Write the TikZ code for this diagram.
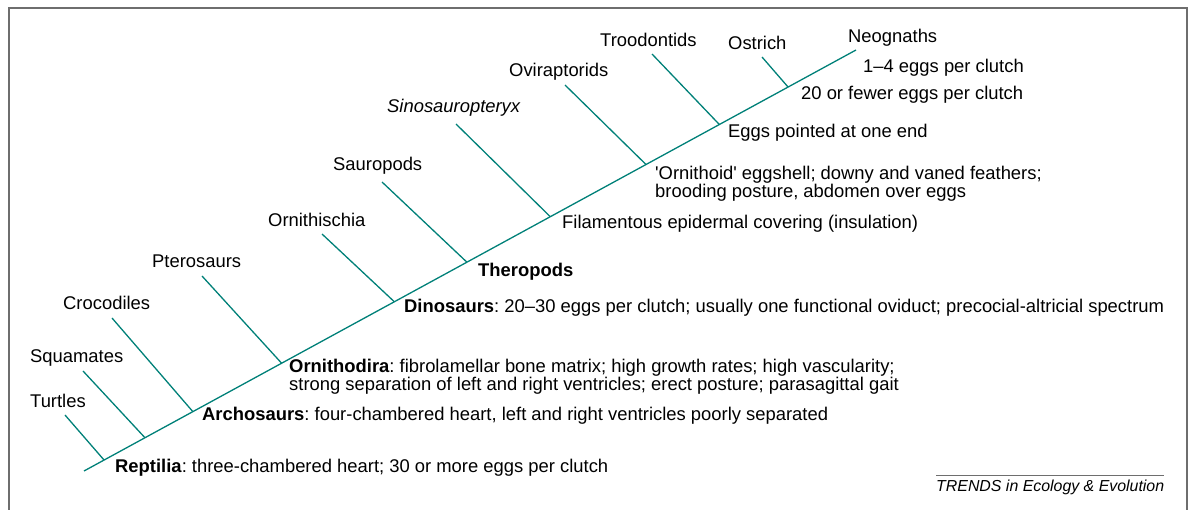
\documentclass[tikz,border=0pt]{standalone}
\usepackage{fontspec}
\setmainfont{Liberation Sans}
\usetikzlibrary{calc}
\definecolor{cladeteal}{RGB}{0,128,120}
\definecolor{framegray}{RGB}{110,110,110}
\frenchspacing

\begin{document}
\begin{tikzpicture}[x=1pt, y=-1pt,
  branch/.style={cladeteal, line width=1.3pt},
  lbl/.style={anchor=base west, inner sep=0pt, font=\fontsize{18.4}{15.5}\selectfont},
  note/.style={lbl, align=left}]
  \useasboundingbox (0,0) rectangle (1192,510);
  % frame
  \draw[framegray, line width=1.2pt] (9,515) -- (9,8) -- (1187,8) -- (1187,515);
  % trunk
  \coordinate (root) at (84,471);
  \coordinate (tNeognaths) at (856,50);
  \draw[branch] (root) -- (tNeognaths);
  % side branches: name / fraction along trunk / tip
  \foreach \nm/\where/\tx/\ty in {Turtles/0.026/65/415, Squamates/0.079/83/371,
      Crocodiles/0.141/112/318, Pterosaurs/0.256/202/276, Ornithischia/0.402/322/234,
      Sauropods/0.496/382/182, Sinosauropteryx/0.604/456/124, Oviraptorids/0.728/565/85,
      Troodontids/0.823/652/54, Ostrich/0.912/762/57}{
    \coordinate (j\nm) at ($(root)!\where!(tNeognaths)$);
    \coordinate (t\nm) at (\tx,\ty);
    \draw[branch] (j\nm) -- (t\nm);
  }
  % taxa
  \node[lbl] (lTurtles) at (30,408) {Turtles};
  \node[lbl] (lSquamates) at (30,363) {Squamates};
  \node[lbl] (lCrocodiles) at (63,310) {Crocodiles};
  \node[lbl] (lPterosaurs) at (152,268) {Pterosaurs};
  \node[lbl] (lOrnithischia) at (268,227) {Ornithischia};
  \node[lbl] (lSauropods) at (333,171) {Sauropods};
  \node[lbl] (lSinosauropteryx) at (387,113) {\textit{Sinosauropteryx}};
  \node[lbl] (lOviraptorids) at (509,77) {Oviraptorids};
  \node[lbl] (lTroodontids) at (600,47) {Troodontids};
  \node[lbl] (lOstrich) at (728,50) {Ostrich};
  \node[lbl] (lNeognaths) at (848,43) {Neognaths};
  % characters along the trunk (two-line notes sit on their last line)
  \node[lbl] (cClutchFour) at (863,73) {1--4 eggs per clutch};
  \node[lbl] (cClutchTwenty) at (801,100) {20 or fewer eggs per clutch};
  \node[lbl] (cPointed) at (728,138) {Eggs pointed at one end};
  \node[note] (cOrnithoid) at (655,197.5) {\textquotesingle Ornithoid\textquotesingle{} eggshell; downy and vaned feathers;\\
    brooding posture, abdomen over eggs};
  \node[lbl] (cFilament) at (562,229) {Filamentous epidermal covering (insulation)};
  \node[lbl] (cTheropods) at (478,277) {\textbf{Theropods}};
  \node[lbl] (cDinosaurs) at (404,313) {\textbf{Dinosaurs}: 20--30 eggs per clutch; usually one functional oviduct; precocial-altricial spectrum};
  \node[note] (cOrnithodira) at (289,390.5) {\textbf{Ornithodira}: fibrolamellar bone matrix; high growth rates; high vascularity;\\
    strong separation of left and right ventricles; erect posture; parasagittal gait};
  \node[lbl] (cArchosaurs) at (202,421) {\textbf{Archosaurs}: four-chambered heart, left and right ventricles poorly separated};
  \node[lbl] (cReptilia) at (115,473) {\textbf{Reptilia}: three-chambered heart; 30 or more eggs per clutch};
  % credit
  \node[lbl, font=\fontsize{15.9}{15}\selectfont\itshape] (credit) at (936,491) {TRENDS in Ecology \& Evolution};
  \draw[framegray, line width=0.8pt] ([yshift=4pt]credit.north west) -- ([yshift=4pt]credit.north east);
\end{tikzpicture}
\end{document}
